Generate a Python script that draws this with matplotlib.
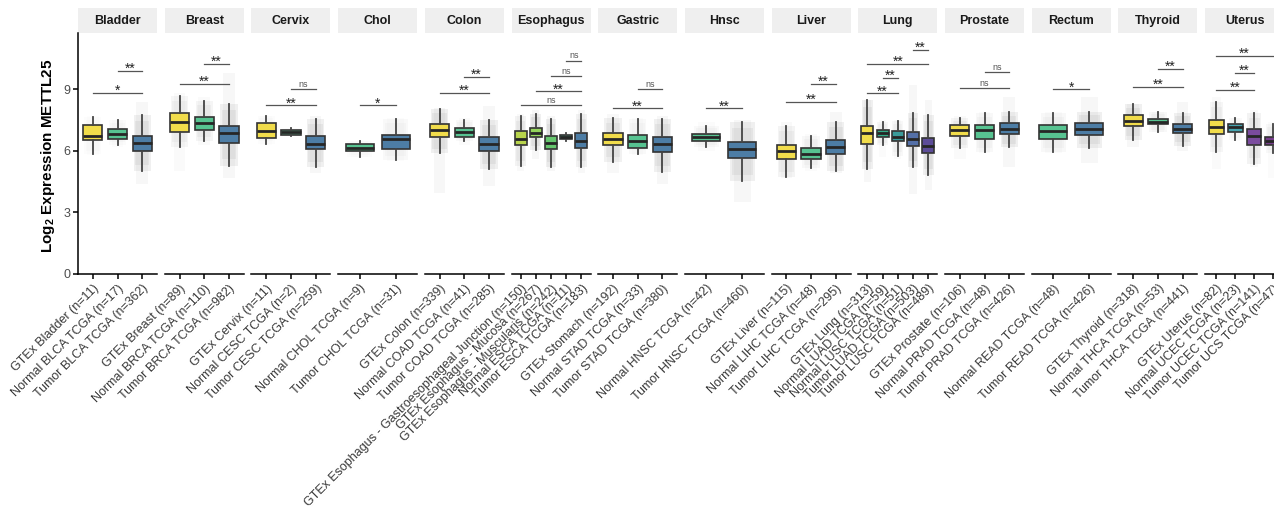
import numpy as np
import matplotlib
matplotlib.use('Agg')
import matplotlib.pyplot as plt
from matplotlib.patches import Rectangle

plt.rcParams['font.family'] = ['Liberation Sans', 'DejaVu Sans']
plt.rcParams['mathtext.fontset'] = 'custom'
plt.rcParams['mathtext.rm'] = 'Liberation Sans:bold'
plt.rcParams['mathtext.bf'] = 'Liberation Sans:bold'

# Tissues (facets) and how many groups each one holds
panels = ['Bladder', 'Breast', 'Cervix', 'Chol', 'Colon', 'Esophagus', 'Gastric',
          'Hnsc', 'Liver', 'Lung', 'Prostate', 'Rectum', 'Thyroid', 'Uterus']
group_counts = [3, 3, 3, 2, 3, 5, 3, 2, 3, 5, 3, 2, 3, 4]

group_names = [
    'GTEx Bladder', 'Normal BLCA TCGA', 'Tumor BLCA TCGA',
    'GTEx Breast', 'Normal BRCA TCGA', 'Tumor BRCA TCGA',
    'GTEx Cervix', 'Normal CESC TCGA', 'Tumor CESC TCGA',
    'Normal CHOL TCGA', 'Tumor CHOL TCGA',
    'GTEx Colon', 'Normal COAD TCGA', 'Tumor COAD TCGA',
    'GTEx Esophagus - Gastroesophageal Junction', 'GTEx Esophagus - Mucosa',
    'GTEx Esophagus - Muscularis', 'Normal ESCA TCGA', 'Tumor ESCA TCGA',
    'GTEx Stomach', 'Normal STAD TCGA', 'Tumor STAD TCGA',
    'Normal HNSC TCGA', 'Tumor HNSC TCGA',
    'GTEx Liver', 'Normal LIHC TCGA', 'Tumor LIHC TCGA',
    'GTEx Lung', 'Normal LUAD TCGA', 'Normal LUSC TCGA', 'Tumor LUAD TCGA', 'Tumor LUSC TCGA',
    'GTEx Prostate', 'Normal PRAD TCGA', 'Tumor PRAD TCGA',
    'Normal READ TCGA', 'Tumor READ TCGA',
    'GTEx Thyroid', 'Normal THCA TCGA', 'Tumor THCA TCGA',
    'GTEx Uterus', 'Normal UCEC TCGA', 'Tumor UCEC TCGA', 'Tumor UCS TCGA',
]
group_n = [11, 17, 362, 89, 110, 982, 11, 2, 259, 9, 31, 339, 41, 285,
           150, 267, 242, 11, 183, 192, 33, 380, 42, 460, 115, 48, 295,
           313, 59, 51, 503, 489, 106, 48, 426, 48, 426, 318, 53, 441,
           82, 23, 141, 47]

# Box statistics (log2 expression)
med = [6.74, 6.82, 6.37, 7.41, 7.34, 6.86, 6.98, 6.90, 6.35, 6.16, 6.58,
       7.02, 6.90, 6.32, 6.58, 6.89, 6.37, 6.66, 6.50, 6.58, 6.48, 6.35,
       6.68, 6.08, 5.99, 5.86, 6.20, 6.86, 6.86, 6.69, 6.59, 6.25,
       7.00, 7.00, 7.07, 6.98, 7.07, 7.47, 7.42, 7.08, 7.15, 7.16, 6.74, 6.48]
q1 = [6.53, 6.56, 6.01, 6.94, 7.02, 6.40, 6.64, 6.77, 6.08, 5.99, 6.11,
      6.66, 6.69, 5.99, 6.27, 6.66, 6.09, 6.56, 6.16, 6.29, 6.16, 5.96,
      6.50, 5.64, 5.59, 5.62, 5.86, 6.35, 6.68, 6.48, 6.22, 5.88,
      6.74, 6.59, 6.81, 6.56, 6.79, 7.21, 7.29, 6.86, 6.81, 6.90, 6.30, 6.27]
q3 = [7.25, 7.08, 6.73, 7.85, 7.65, 7.20, 7.34, 7.03, 6.73, 6.32, 6.79,
      7.29, 7.10, 6.68, 6.98, 7.13, 6.73, 6.76, 6.86, 6.86, 6.77, 6.66,
      6.84, 6.45, 6.30, 6.16, 6.52, 7.23, 7.02, 6.98, 6.90, 6.63,
      7.25, 7.26, 7.36, 7.26, 7.34, 7.73, 7.57, 7.32, 7.48, 7.29, 7.05, 6.69]
whis_lo = [5.83, 6.29, 5.03, 6.17, 6.48, 5.28, 6.34, 6.72, 5.23, 5.72, 5.56,
           5.88, 6.48, 5.12, 5.28, 6.04, 5.21, 6.50, 5.23, 5.47, 5.85, 4.99,
           6.20, 4.55, 4.71, 5.15, 5.03, 5.10, 6.29, 5.75, 5.23, 4.82,
           6.12, 5.96, 6.17, 5.96, 6.16, 6.53, 6.92, 6.25, 5.96, 6.52, 5.38, 5.90]
whis_hi = [7.67, 7.50, 7.73, 8.69, 8.43, 8.28, 7.72, 7.10, 7.54, 6.48, 7.54,
           8.04, 7.50, 7.50, 7.70, 7.80, 7.54, 6.86, 7.80, 7.59, 7.54, 7.54,
           7.21, 7.42, 7.23, 6.73, 7.41, 8.46, 7.42, 7.46, 7.86, 7.75,
           7.62, 7.86, 7.89, 7.83, 7.91, 8.28, 7.88, 7.85, 8.40, 7.62, 7.85, 7.31]
# Lowest and highest sample of each group
pts_lo = [5.80, 6.20, 4.40, 5.00, 6.30, 4.70, 6.30, 6.70, 4.90, 5.70, 5.50,
          3.95, 6.30, 4.30, 5.00, 5.60, 5.00, 6.45, 4.90, 4.90, 5.80, 4.40,
          6.00, 3.50, 4.70, 5.00, 4.90, 4.50, 5.70, 5.60, 3.90, 4.10,
          5.60, 5.90, 5.20, 5.90, 5.40, 6.20, 6.90, 6.00, 5.10, 6.50, 5.20, 4.70]
pts_hi = [7.70, 7.50, 8.40, 8.80, 8.60, 9.80, 7.70, 7.10, 7.70, 6.50, 7.60,
          8.10, 7.60, 8.20, 7.80, 8.00, 7.70, 6.90, 8.00, 7.80, 7.60, 7.70,
          7.40, 7.50, 7.40, 6.80, 7.90, 8.50, 7.50, 7.50, 9.20, 8.50,
          7.70, 7.90, 8.60, 7.90, 8.60, 8.30, 7.90, 8.40, 8.60, 7.60, 8.00, 7.40]

# Pairwise tests per tissue: (group a, group b, bracket height, label)
brackets = [
    [(2, 3, 9.89, '**'), (1, 3, 8.82, '*')],
    [(2, 3, 10.23, '**'), (1, 3, 9.26, '**')],
    [(2, 3, 9.03, 'ns'), (1, 3, 8.22, '**')],
    [(1, 2, 8.22, '*')],
    [(2, 3, 9.60, '**'), (1, 3, 8.82, '**')],
    [(4, 5, 10.40, 'ns'), (3, 5, 9.65, 'ns'), (2, 5, 8.90, '**'), (1, 5, 8.22, 'ns')],
    [(2, 3, 9.00, 'ns'), (1, 3, 8.07, '**')],
    [(1, 2, 8.07, '**')],
    [(2, 3, 9.27, '**'), (1, 3, 8.38, '**')],
    [(4, 5, 10.92, '**'), (1, 5, 10.25, '**'), (2, 3, 9.54, '**'), (1, 3, 8.80, '**')],
    [(2, 3, 9.84, 'ns'), (1, 3, 9.06, 'ns')],
    [(1, 2, 9.00, '*')],
    [(2, 3, 9.99, '**'), (1, 3, 9.13, '**')],
    [(1, 4, 10.64, '**'), (2, 3, 9.81, '**'), (1, 3, 8.97, '**')],
]

Y, G, B = '#F1DC4B', '#57C391', '#4D7DA5'
fill_colors = [Y, G, B, Y, G, B, Y, G, B, G, B, Y, G, B,
               '#B8D44C', '#93D35B', '#66C66E', '#3E9E80', B,
               Y, G, B, G, B, Y, G, B,
               Y, '#33AD88', '#3A9B9A', '#5470A8', '#5C4C98',
               Y, G, B, G, B, Y, G, B,
               Y, '#45A3AE', '#7A4B9E', '#773D8C']

W, H = 1274, 508
fig = plt.figure(figsize=(W / 100, H / 100), dpi=100)

box_w = 0.78
y_top = 11.74
start = 0
for k, name in enumerate(panels):
    m = group_counts[k]
    idx = list(range(start, start + m))
    start += m
    left = 78 + k * 86.7
    ax = fig.add_axes([left / W, 1 - 274 / H, 79 / W, 241 / H])
    pos = np.arange(1, m + 1)

    # grey cloud standing in for the jittered samples: faint over the full
    # sample range, denser over the whisker range
    for p, i in zip(pos, idx):
        a = min(0.28, 0.018 * np.sqrt(group_n[i]))
        ax.bar(p, pts_hi[i] - pts_lo[i], bottom=pts_lo[i], width=box_w * 0.6,
               color='#a8a8a8', alpha=a * 0.3, linewidth=0, zorder=1)
        ax.bar(p, whis_hi[i] - whis_lo[i], bottom=whis_lo[i], width=box_w * 0.9,
               color='#a0a0a0', alpha=a * 0.55, linewidth=0, zorder=1)
        ax.bar(p, (whis_hi[i] - whis_lo[i]) * 0.8, bottom=whis_lo[i] + (whis_hi[i] - whis_lo[i]) * 0.1,
               width=box_w * 0.75, color='#a0a0a0', alpha=a * 0.5, linewidth=0, zorder=1)

    stats = [dict(med=med[i], q1=q1[i], q3=q3[i], whislo=whis_lo[i],
                  whishi=whis_hi[i], fliers=[]) for i in idx]
    bp = ax.bxp(stats, positions=pos, widths=box_w, patch_artist=True,
                showfliers=False, showcaps=False, zorder=3,
                boxprops=dict(edgecolor='#333333', linewidth=1.2),
                whiskerprops=dict(color='#444444', linewidth=1.3),
                medianprops=dict(color='#262626', linewidth=2.0))
    for patch, i in zip(bp['boxes'], idx):
        patch.set_facecolor(fill_colors[i])

    # significance brackets
    for a_, b_, yb, lab in brackets[k]:
        ax.plot([a_, b_], [yb, yb], color='#555555', lw=0.9, zorder=4)
        if lab == 'ns':
            ax.annotate(lab, ((a_ + b_) / 2, yb), xytext=(0, 1.5), textcoords='offset points',
                        ha='center', va='baseline', fontsize=6.5, color='#555555')
        else:
            ax.annotate(lab, ((a_ + b_) / 2, yb), xytext=(0, -1.5), textcoords='offset points',
                        ha='center', va='baseline', fontsize=10, color='#222222')

    ax.set_xlim(0.4, m + 0.6)
    ax.set_ylim(0, y_top)
    ax.set_xticks(pos)
    ax.set_xticklabels([f'{group_names[i]} (n={group_n[i]})' for i in idx],
                       rotation=45, ha='right', va='top', rotation_mode='anchor',
                       fontsize=9, color='#3a3a3a')
    ax.tick_params(axis='x', length=3.5, width=1.1, pad=2.5)
    for s in ['top', 'right']:
        ax.spines[s].set_visible(False)
    ax.spines['bottom'].set_linewidth(1.1)
    if k == 0:
        ax.spines['left'].set_linewidth(1.1)
        ax.set_yticks([0, 3, 6, 9])
        ax.tick_params(axis='y', length=3.5, width=1.1, labelsize=9, labelcolor='#4d4d4d', pad=2)
    else:
        ax.spines['left'].set_visible(False)
        ax.set_yticks([])

    # facet strip
    ax.add_patch(Rectangle((0, 1.0), 1, 25 / 241, transform=ax.transAxes,
                           facecolor='#EFEFEF', edgecolor='none', clip_on=False))
    ax.text(0.5, 1.0 + 12.5 / 241, name, transform=ax.transAxes, ha='center',
            va='center', fontsize=9, fontweight='bold', color='#1a1a1a')

fig.text(48 / W, 1 - 156 / H, r'Log$_{\mathbf{2}}$ Expression METTL25', rotation=90,
         ha='center', va='center', fontsize=11, fontweight='bold')

fig.savefig('out.png', dpi=100)
